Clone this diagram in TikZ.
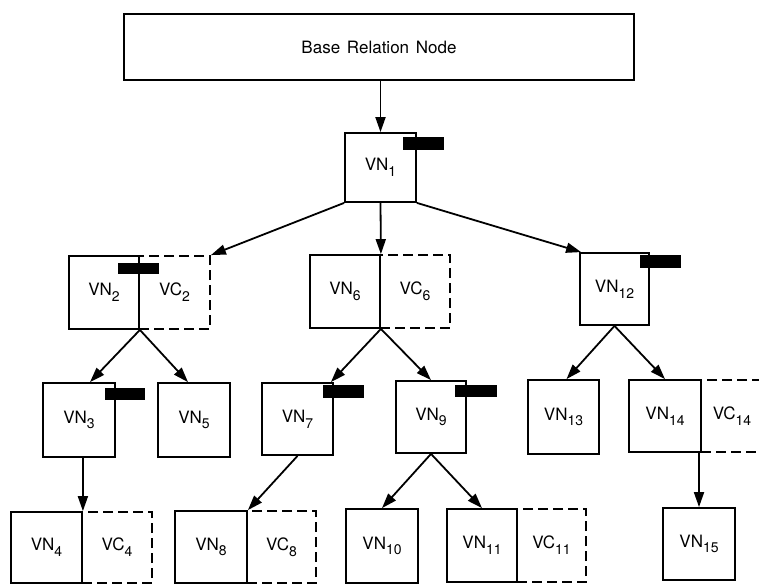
\documentclass[tikz,border=0pt]{standalone}
\usepackage{fontspec}
\setmainfont{TeX Gyre Heros}
\usetikzlibrary{arrows.meta}
\newcommand\lowidx[1]{\raisebox{-0.34em}{\fontsize{14}{14}\selectfont #1}}
\begin{document}
\begin{tikzpicture}[x=1pt,y=-1pt,
  every node/.style={font=\fontsize{17}{19}\selectfont, inner sep=0pt},
  vn/.style={draw, line width=1.8pt, fill=white},
  vc/.style={draw, line width=1.8pt, dash pattern=on 10pt off 5pt},
  flag/.style={fill=black, inner sep=0pt},
  link/.style={line width=1.8pt, -{Triangle[length=15pt,width=10pt]}}]
\useasboundingbox (0,0) rectangle (759,584);

% root relation
\node[vn, minimum width=510pt, minimum height=66pt] (base) at (379,47) {Base\hspace{0.12em} Relation\hspace{0.12em} Node};

% level 1
\node[vn, minimum width=71pt, minimum height=69pt] (VN1) at (380.5,167.5) {VN\lowidx{1}};
\node[flag, minimum width=41pt, minimum height=13pt] (F1) at (423.5,143.5) {};

% level 2
\node[vc, minimum width=71pt, minimum height=73pt] (VC2) at (174.5,292.5) {VC\lowidx{2}};
\node[vn, minimum width=70pt, minimum height=73pt] (VN2) at (104,292.5) {VN\lowidx{2}};
\node[flag, minimum width=41pt, minimum height=11pt] (F2) at (138.5,268.5) {};

\node[vc, minimum width=70pt, minimum height=73pt] (VC6) at (415,291.5) {VC\lowidx{6}};
\node[vn, minimum width=70pt, minimum height=73pt] (VN6) at (345,291.5) {VN\lowidx{6}};

\node[vn, minimum width=69pt, minimum height=72pt] (VN12) at (614.5,289) {VN\lowidx{12}};
\node[flag, minimum width=41pt, minimum height=13pt] (F12) at (660.5,261.5) {};

% level 3
\node[vn, minimum width=72pt, minimum height=74pt] (VN3) at (79,420) {VN\lowidx{3}};
\node[flag, minimum width=40pt, minimum height=12pt] (F3) at (125,394) {};
\node[vn, minimum width=72pt, minimum height=74pt] (VN5) at (194,420) {VN\lowidx{5}};

\node[vn, minimum width=71pt, minimum height=72pt] (VN7) at (297.5,419) {VN\lowidx{7}};
\node[flag, minimum width=41pt, minimum height=13pt] (F7) at (343.5,391.5) {};
\node[vn, minimum width=70pt, minimum height=72pt] (VN9) at (431,417) {VN\lowidx{9}};
\node[flag, minimum width=42pt, minimum height=12pt] (F9) at (476,391) {};

\node[vn, minimum width=71pt, minimum height=74pt] (VN13) at (563.5,417) {VN\lowidx{13}};
\node[vc, minimum width=62pt, minimum height=72pt] (VC14) at (732,416) {VC\lowidx{14}};
\node[vn, minimum width=72pt, minimum height=72pt] (VN14) at (665,416) {VN\lowidx{14}};

% level 4
\node[vc, minimum width=70pt, minimum height=71pt] (VC4) at (117,547.5) {VC\lowidx{4}};
\node[vn, minimum width=71pt, minimum height=71pt] (VN4) at (46.5,547.5) {VN\lowidx{4}};

\node[vc, minimum width=69pt, minimum height=72pt] (VC8) at (281.5,547) {VC\lowidx{8}};
\node[vn, minimum width=72pt, minimum height=72pt] (VN8) at (211,547) {VN\lowidx{8}};

\node[vn, minimum width=72pt, minimum height=74pt] (VN10) at (382,546) {VN\lowidx{10}};

\node[vc, minimum width=69pt, minimum height=73pt] (VC11) at (551.5,545.5) {VC\lowidx{11}};
\node[vn, minimum width=70pt, minimum height=73pt] (VN11) at (482,545.5) {VN\lowidx{11}};

\node[vn, minimum width=72pt, minimum height=72pt] (VN15) at (699,544) {VN\lowidx{15}};

% connectors
\draw[link] (VN1.north |- base.south) -- (VN1.north);
\draw[link] (VN1.south west) -- (VC2.north east);
\draw[link] (VN1.south) -- (VN6.north east);
\draw[link] (VN1.south east) -- ([xshift=2pt]VN12.north west);

\draw[link] (VN2.south east) -- ([xshift=11pt]VN3.north);
\draw[link] (VN2.south east) -- ([xshift=-6pt]VN5.north);
\draw[link] (VN6.south east) -- ([xshift=-3pt]VN7.north east);
\draw[link] (VN6.south east) -- (VN9.north);
\draw[link] (VN12.south) -- ([xshift=3pt]VN13.north);
\draw[link] (VN12.south) -- (VN14.north);

\draw[link] (VN4.north east |- VN3.south) -- (VN4.north east);
\draw[link] (VN7.south) -- (VN8.north east);
\draw[link] (VN9.south) -- (VN10.north);
\draw[link] (VN9.south) -- (VN11.north);
\draw[link] (VN15.north |- VN14.south east) -- (VN15.north);
\end{tikzpicture}
\end{document}
